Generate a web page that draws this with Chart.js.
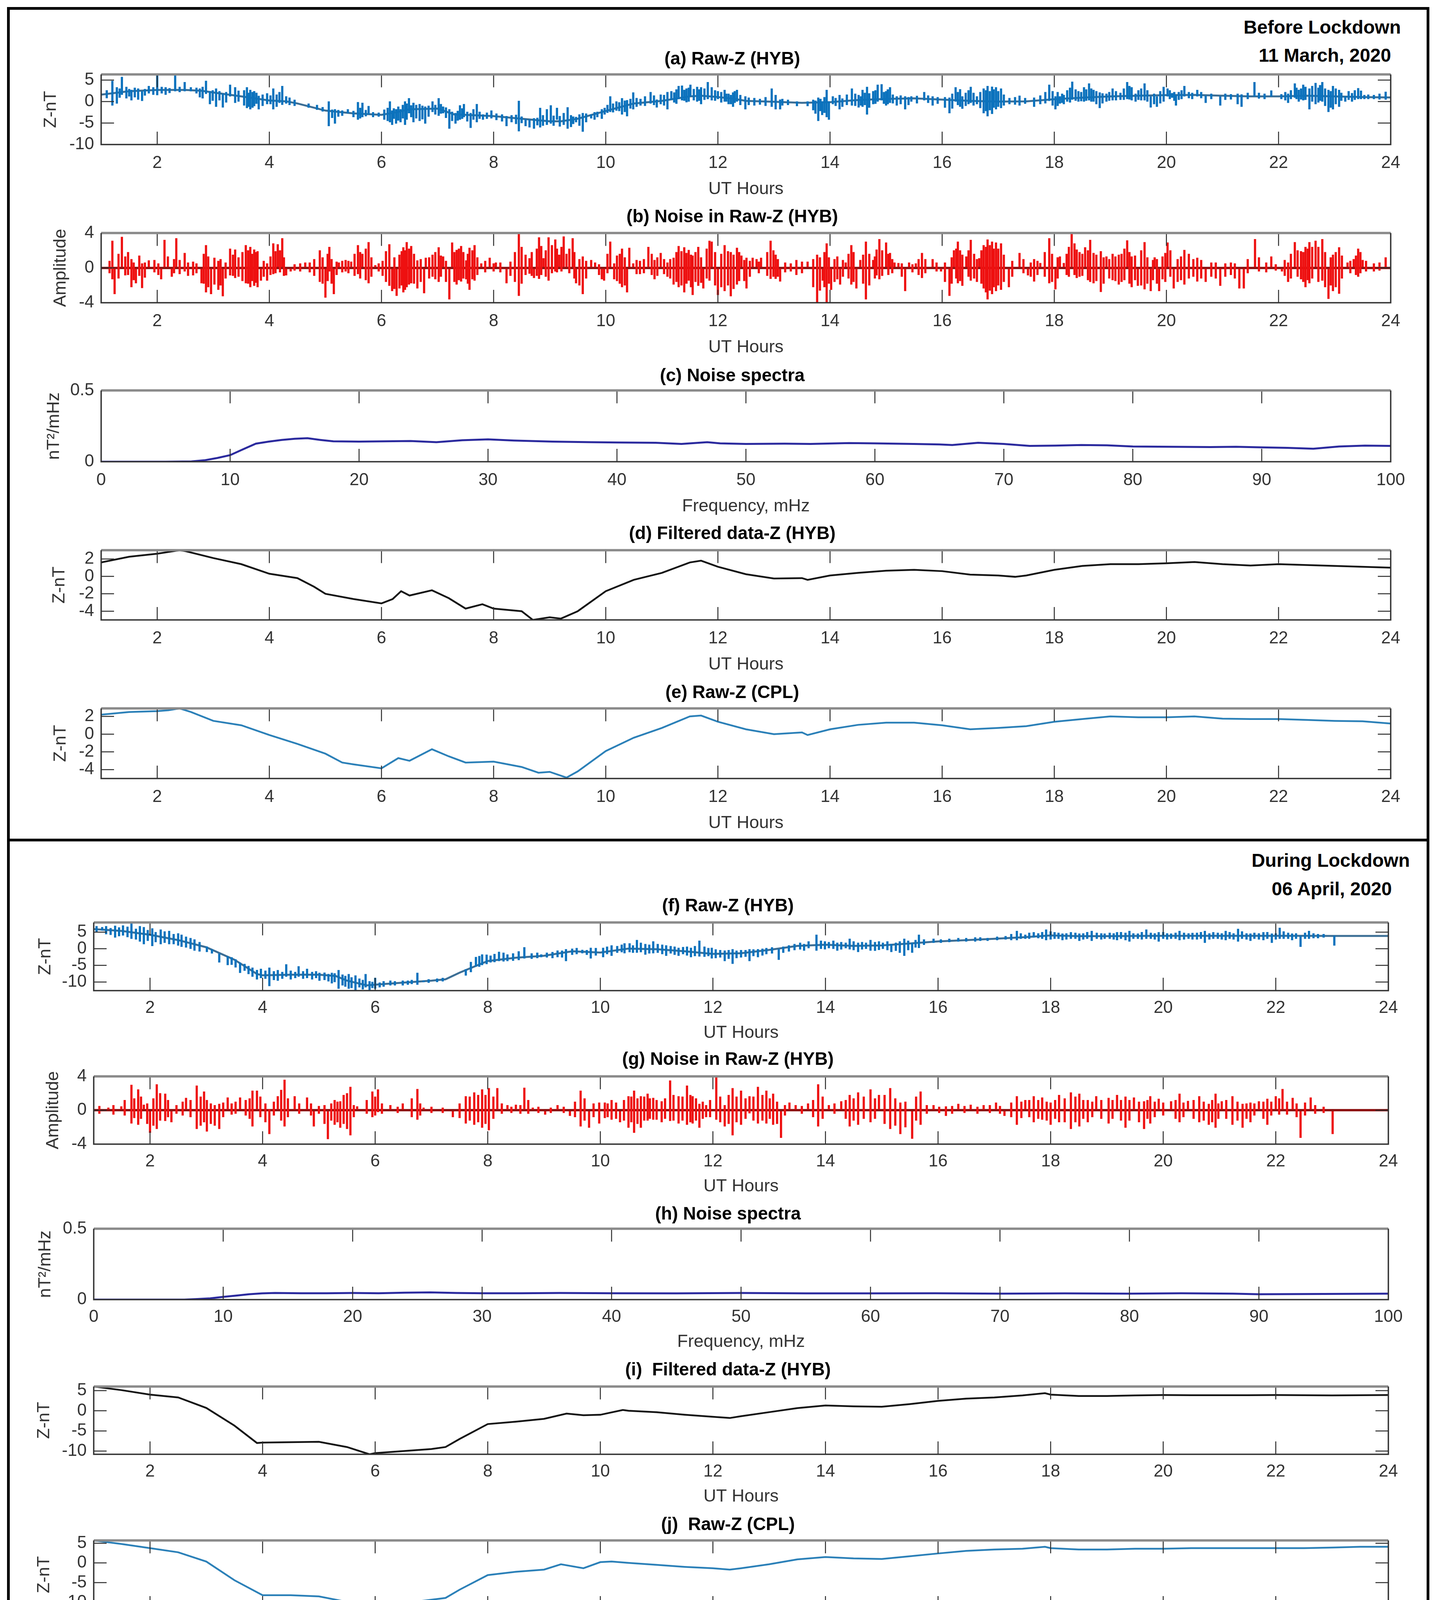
<!DOCTYPE html>
<html>
<head>
<meta charset="utf-8">
<script src="https://cdn.jsdelivr.net/npm/chart.js@4.4.0/dist/chart.umd.min.js"></script>
<style>
html,body{margin:0;padding:0;background:#fff;}
body{width:3677px;height:4375px;position:relative;overflow:hidden;font-family:'Liberation Sans',Arial,sans-serif;}
.panel{position:absolute;border:7px solid #000;box-sizing:border-box;}
.lbl{position:absolute;font-weight:bold;font-size:48px;line-height:48px;white-space:nowrap;color:#000;}
canvas{position:absolute;}
</style>
</head>
<body>
<div class="panel" style="left:18px;top:18px;width:3642px;height:2136px"></div>
<div class="panel" style="left:18px;top:2147px;width:3642px;height:2207px"></div>
<div class="lbl" style="right:90px;top:46px">Before Lockdown</div>
<div class="lbl" style="right:115px;top:118px">11 March, 2020</div>
<div class="lbl" style="right:67px;top:2179px">During Lockdown</div>
<div class="lbl" style="right:113px;top:2252px">06 April, 2020</div>
<script>
// ================= DATA =================
const HOUR_TICKS = [2,4,6,8,10,12,14,16,18,20,22,24];
const FREQ_TICKS = [0,10,20,30,40,50,60,70,80,90,100];
const Z_TICKS_10 = [-10,-5,0,5];
const Z_TICKS_4 = [-4,-2,0,2];
const NOISE_TICKS = [-4,-2,0,2,4];
const SPEC_TICKS = [0,0.5];

// (a) Raw-Z (HYB), 11 March 2020 : slow variation (hours / nT)
const A_TREND_H = [1,1.5,2,2.5,2.8,3,3.5,4,4.3,4.5,5,5.3,5.5,6,6.3,6.5,7,7.3,7.5,8,8.5,9,9.2,9.5,10,10.5,11,11.5,11.7,12,12.3,12.5,13,13.5,14,14.5,15,15.5,16,16.5,17,17.5,18,18.5,19,19.5,20,20.5,21,21.5,22,22.5,23,23.5,24];
const A_TREND_V = [1.6,2.4,2.7,2.7,2.5,2.1,1.2,0.25,0.05,-0.45,-2.1,-2.5,-2.75,-3.1,-2.4,-1.8,-1.65,-3.0,-3.1,-3.4,-4.0,-4.6,-4.6,-4.0,-2.2,-0.45,0.15,1.2,1.35,1.05,0.6,0.15,-0.05,-0.3,-0.15,0.35,0.6,0.75,0.45,0.15,0,0.05,0.55,0.9,1.2,1.35,1.5,1.55,1.35,1.2,1.2,1.35,1.2,1.05,0.95];
// (a) spikes: [hour, low nT, high nT]  (large spikes)
const A_SPIKES_1 = [
[1.20,-0.9,4.8],[1.28,-0.45,3.3],[1.37,1.6,5.7],[1.45,0.75,3.4],[1.54,0.3,2.7],[1.66,0.45,3.0],[1.73,0.15,2.4],[1.85,1.9,3.6],[2.00,1.5,6.1],[2.15,1.6,3.3],[2.32,2.4,6.1],[2.49,2.4,4.5],[2.60,2.4,3.3],[2.81,0.75,3.4],[2.87,1.8,4.8],[2.94,-0.6,2.4],[3.05,-1.2,3.0],[3.17,-1.35,1.8],[3.30,1.2,3.9],[3.39,-0.3,3.3],[3.60,-1.5,3.3],[3.66,-1.8,2.7],[3.73,-1.05,2.4],[3.81,-1.8,1.3],[3.96,-0.6,1.9],[4.07,-1.8,3.0],[4.23,-0.75,3.6],[4.30,-0.45,1.2],
[5.06,-5.7,0.0],[5.17,-5.1,-1.8],[5.40,-2.7,-1.8],[5.58,-4.2,-0.15],[5.66,-3.6,-0.3],[5.77,-3.0,-1.05],[6.15,-4.8,0.0],[6.19,-5.4,-2.1],[6.26,-5.1,-1.8],[6.34,-4.8,-1.8],[6.42,-5.4,0.0],[6.49,-2.7,0.75],[6.57,-4.8,-0.3],[6.68,-4.5,-0.6],[6.78,-5.1,-1.2],[6.91,-2.4,0.0],[7.02,-3.3,0.75],[7.10,-2.7,-1.2],[7.21,-6.3,-1.8],[7.32,-5.1,-2.7],[7.40,-4.2,-0.9],[7.47,-3.6,-0.6],[7.59,-6.1,-2.7],[7.70,-4.8,-0.6],[7.81,-4.2,-3.0],[7.96,-3.9,-2.1],[8.23,-5.7,-3.4],[8.45,-6.9,0.15],[8.57,-5.7,-4.1],[8.64,-6.0,-4.2],[8.72,-6.3,-3.9],[8.83,-6.0,-1.5],[8.95,-5.4,-1.8],[9.02,-5.1,-0.9],[9.13,-4.2,-1.5],[9.25,-5.4,-2.7],[9.32,-6.3,-1.35],[9.47,-4.8,-3.6],[9.59,-7.0,-2.7],[9.74,-3.9,-3.0],[9.85,-3.6,-2.4],[9.93,-4.0,-1.8],
[10.08,-2.4,1.2],[10.19,-2.1,0.0],[10.29,-3.0,0.75],[10.38,-3.4,0.3],[10.49,-1.8,2.1],[10.80,-0.45,2.2],[10.91,-1.35,0.45],[10.98,-0.6,1.6],[11.10,-1.8,2.2],[11.17,0.4,2.4],[11.30,0.6,3.6],[11.36,0.3,3.7],[11.44,-0.15,3.0],[11.51,1.2,3.9],[11.63,0.0,3.4],[11.70,-0.6,3.3],[11.82,0.6,4.5],[11.89,0.3,3.3],[12.00,0.6,2.4],[12.12,0.0,2.7],[12.19,-0.6,1.8],[12.27,-1.2,2.1],[12.34,0.0,2.7],[12.49,-1.8,1.2],
[12.96,-1.2,3.0],[13.03,-1.8,1.5],[13.11,-1.8,0.45],[13.41,-1.05,0.0],[13.60,-1.05,0.0],[13.79,-4.5,0.9],[13.86,-3.1,0.0],[13.94,-3.6,2.7],[13.98,-4.2,0.0],[14.05,-0.6,1.2],[14.17,-1.8,1.5],[14.39,-0.9,3.0],[14.51,-1.35,1.5],[14.58,-1.2,2.7],[14.66,-3.0,3.4],[14.77,-0.6,2.4],[14.85,0.0,3.9],[14.92,0.3,4.0],[15.00,-0.9,2.4],[15.07,-0.3,3.3],[15.19,-0.9,1.2],[15.34,-1.8,1.2],[15.45,0.0,1.2],[15.68,0.3,2.2],[15.83,-0.9,1.2],
[16.13,-2.7,0.9],[16.24,0.0,3.3],[16.32,-1.2,2.85],[16.36,-1.65,1.2],[16.51,-0.3,3.4],[16.62,-0.6,1.2],[16.74,-2.7,3.0],[16.81,-3.4,3.6],[16.89,-2.85,3.45],[16.96,-1.8,3.3],[17.05,-1.5,3.0],[17.38,-0.9,1.35],[17.64,-1.2,0.9],[17.91,0.15,3.9],[18.02,-1.8,1.2],[18.10,-0.45,1.2],[18.17,-0.6,1.5],[18.32,0.45,4.6],[18.43,0.0,2.4],[18.53,0.0,3.3],[18.62,0.3,4.2],[18.70,0.0,2.7],[18.81,-1.5,2.1],[18.93,0.0,1.8],[19.04,0.3,3.0],[19.30,0.6,4.5],[19.38,0.3,3.3],[19.45,0.0,1.8],[19.61,0.3,4.2],[19.72,-1.35,1.2],[19.83,-1.2,1.2],[19.95,0.0,3.4],
[20.02,1.2,3.0],[20.10,0.9,1.95],[20.17,-0.9,1.5],[20.32,1.2,3.6],[20.55,1.2,2.7],[20.70,-0.3,1.35],[20.96,-0.9,1.2],[21.27,-0.6,1.8],[21.34,-1.2,1.65],[21.57,1.2,4.5],[21.87,1.2,2.55],[22.17,-0.3,1.8],[22.29,0.9,4.2],[22.36,0.0,2.7],[22.44,0.3,3.9],[22.55,-1.8,3.0],[22.66,-0.6,4.3],[22.78,0.0,4.5],[22.89,-2.4,2.7],[22.97,-1.8,3.6],[23.08,-1.2,2.7],[23.19,0.0,1.2],[23.31,0.0,1.95],[23.42,0.6,3.1],[23.53,0.6,1.5],[23.91,0.45,2.25]
];
// (a) smaller spikes in the dense clusters
const A_SPIKES_2 = [
[1.10,0.8,2.6],[1.33,0.9,3.0],[1.50,1.2,2.9],[1.60,1.0,3.2],[1.78,1.4,2.9],[1.93,1.6,3.3],[2.08,1.9,3.4],[2.22,2.0,3.1],[2.40,2.2,3.4],[2.70,1.9,3.2],[2.76,1.0,3.0],[2.99,0.2,2.6],[3.11,0.3,2.4],[3.23,-0.2,2.2],[3.45,0.0,2.5],[3.55,-0.9,2.6],[3.63,-1.2,2.0],[3.70,-1.4,2.2],[3.77,-0.5,2.0],[3.88,-1.0,1.6],[4.02,-0.6,1.4],[4.13,-1.2,1.6],[4.18,-0.3,2.2],[4.36,-0.8,0.9],[4.45,-1.0,0.4],[4.70,-1.4,-0.5],[4.85,-1.9,-0.8],[4.95,-2.3,-1.3],
[5.12,-3.8,-1.9],[5.23,-3.5,-2.0],[5.30,-3.3,-2.1],[5.50,-3.6,-2.2],[5.62,-3.9,-1.5],[5.72,-3.4,-2.0],[5.85,-3.6,-2.5],[5.95,-3.5,-2.6],[6.05,-4.2,-1.9],[6.11,-4.5,-1.5],[6.22,-4.0,-1.6],[6.30,-4.4,-1.2],[6.38,-3.9,-0.8],[6.45,-4.2,-0.5],[6.53,-3.6,-0.9],[6.62,-3.9,-0.8],[6.73,-4.1,-1.0],[6.84,-3.5,-1.0],[6.96,-3.0,-0.8],[7.06,-2.8,-0.6],[7.15,-3.8,-1.4],[7.26,-4.5,-2.4],[7.36,-4.4,-2.2],[7.44,-4.0,-1.6],[7.53,-4.6,-2.4],[7.64,-4.2,-1.8],[7.75,-4.0,-2.4],[7.88,-4.0,-2.6],[8.05,-4.3,-2.8],[8.15,-4.6,-3.0],[8.32,-4.8,-3.2],[8.40,-5.2,-3.1],[8.50,-5.0,-3.5],[8.78,-5.5,-3.8],[8.88,-5.6,-3.2],[9.07,-5.6,-3.3],[9.18,-5.8,-3.4],[9.38,-5.9,-3.2],[9.42,-5.2,-3.5],[9.53,-5.6,-3.0],[9.65,-4.8,-2.8],[9.80,-4.2,-2.5],
[9.98,-3.0,-1.5],[10.03,-2.6,-0.8],[10.13,-2.5,-0.5],[10.24,-2.2,-0.2],[10.34,-2.4,0.2],[10.44,-1.6,0.6],[10.55,-1.2,0.8],[10.62,-0.9,0.6],[10.70,-1.0,1.2],[10.86,-0.8,1.4],[11.04,-0.9,1.5],[11.22,-0.2,2.1],[11.26,-0.5,2.8],[11.40,0.2,2.7],[11.48,0.0,3.2],[11.57,0.3,2.9],[11.67,0.2,2.8],[11.76,0.4,3.0],[11.95,0.2,2.6],[12.06,-0.2,2.2],[12.15,0.0,1.8],[12.23,-0.6,1.5],[12.30,-0.3,2.4],[12.40,-0.8,1.5],[12.55,-0.8,0.9],[12.65,-0.9,0.8],[12.75,-0.7,0.6],[12.85,-1.0,1.0],
[13.15,-0.9,0.6],[13.25,-0.8,0.4],[13.70,-2.0,0.4],[13.74,-2.8,0.2],[13.83,-2.2,0.6],[13.90,-2.6,1.0],[14.10,-1.0,0.8],[14.22,-1.2,0.7],[14.30,-0.8,1.6],[14.45,-1.0,1.8],[14.55,-0.9,1.2],[14.62,-0.8,2.0],[14.70,-1.4,1.9],[14.81,-0.5,2.6],[14.96,-0.5,2.2],[15.03,-0.6,2.8],[15.12,-0.4,1.6],[15.26,-0.6,1.4],[15.40,-0.8,1.0],[15.55,-0.4,1.3],[15.75,-0.3,1.4],[15.92,-0.5,1.0],[16.05,-1.4,1.0],[16.18,-1.6,1.8],[16.28,-0.8,2.2],[16.42,-1.0,2.0],[16.47,-0.6,2.6],[16.56,-0.9,2.0],[16.68,-1.5,2.2],[16.78,-2.2,2.6],[16.85,-2.0,2.4],[16.92,-1.4,2.8],[17.00,-1.2,2.4],[17.10,-0.9,1.6],[17.20,-0.6,0.8],[17.30,-0.7,1.0],[17.48,-0.5,0.8],[17.75,-0.6,1.4],[17.84,-0.4,2.2],
[17.97,-0.9,2.4],[18.06,-1.0,2.2],[18.14,-0.3,1.8],[18.23,0.0,2.6],[18.28,-0.2,3.2],[18.38,0.2,2.8],[18.48,0.1,2.2],[18.57,0.2,2.8],[18.66,0.0,3.0],[18.75,-0.6,2.4],[18.86,-0.4,1.9],[18.98,0.2,2.2],[19.10,0.3,2.4],[19.18,0.4,2.0],[19.24,0.4,3.0],[19.34,0.5,3.6],[19.50,0.4,2.6],[19.55,0.3,3.0],[19.66,0.0,2.6],[19.78,-0.6,1.8],[19.89,-0.4,2.4],[20.06,0.6,2.6],[20.14,0.2,2.2],[20.22,0.4,2.2],[20.27,0.6,2.6],[20.40,0.8,2.2],[20.46,0.6,2.0],[20.62,0.8,2.2],[20.80,0.6,1.8],[21.05,0.4,1.8],[21.15,0.5,1.7],[21.45,0.6,2.0],[21.65,0.7,2.0],[21.75,0.6,1.8],[22.05,0.6,1.7],[22.12,0.3,2.2],[22.22,0.6,2.6],[22.32,0.6,3.2],[22.40,0.5,3.0],[22.48,0.4,3.4],[22.60,0.0,3.6],[22.71,-0.2,3.2],[22.74,0.2,3.8],[22.83,-1.0,3.0],[22.93,-1.4,2.4],[23.02,-0.6,3.0],[23.12,0.2,2.0],[23.25,0.4,2.4],[23.36,0.4,2.6],[23.47,0.6,2.5],[23.60,0.6,1.6],[23.70,0.6,1.5],[23.80,0.5,1.8]
];

// (b) Noise in Raw-Z (HYB): [hour, low, high] amplitude  (large spikes)
const B_NOISE_1 = [
[1.20,-1.3,3.1],[1.24,-3.0,0],[1.37,0,3.55],[1.43,-0.85,1.3],[1.54,-2.2,1.0],[1.62,-1.75,0],[1.73,-2.3,0.5],[1.85,0,0.85],[2.07,-1.3,0],[2.13,0,3.2],[2.19,0,1.3],[2.26,-1.0,0],[2.34,0,3.4],[2.49,-0.4,1.7],[2.64,-0.85,0.7],[2.79,-1.75,0],[2.87,-2.8,2.6],[2.96,-3.0,0],[3.02,-1.9,1.15],[3.09,-2.5,0.8],[3.17,-3.25,0],[3.30,-0.85,2.2],[3.39,-1.15,2.1],[3.58,-1.75,2.6],[3.66,-2.2,2.4],[3.73,-2.05,2.1],[3.79,-2.2,1.9],[3.85,-1.45,0],[3.96,-1.45,0.5],[4.07,-0.7,2.8],[4.15,0,2.7],[4.23,0,3.4],[4.30,-0.85,0],[4.38,-0.4,0],[4.64,0,0.6],[4.90,-1.6,2.0],[5.00,-3.4,0],[5.07,-0.4,2.4],[5.15,-3.0,0],[5.24,0,0.6],[5.36,-0.4,0.9],[5.46,0,0.7],[5.58,-0.7,2.6],[5.66,0,1.6],[5.77,-1.75,2.95],[5.89,0,0.3],
[6.14,-2.05,2.7],[6.19,-2.65,0],[6.27,-3.2,0],[6.32,-2.35,1.5],[6.39,-2.8,2.35],[6.45,-2.2,2.95],[6.53,-1.75,2.5],[6.64,-2.35,0.85],[6.76,-2.9,0],[6.79,0,1.15],[6.91,-1.0,1.5],[7.02,-1.6,2.35],[7.10,0,1.3],[7.21,-3.6,0],[7.26,0,2.9],[7.34,-1.9,2.05],[7.42,-1.55,2.5],[7.51,-1.3,0.85],[7.57,-2.5,2.3],[7.66,-1.45,2.6],[7.78,0,0.5],[7.93,0,1.15],[8.04,0,0.6],[8.23,-1.75,0],[8.45,-3.2,4.0],[8.64,-0.65,1.1],[8.72,-1.15,0],[8.81,-1.25,3.5],[8.89,0,1.1],[8.98,-1.45,3.5],[9.10,-0.4,3.25],[9.17,0,1.5],[9.25,0,3.6],[9.30,0,1.6],[9.41,0,3.4],[9.47,-1.75,0],[9.59,-3.0,1.3],[9.74,0,0.9],[9.81,0,0.6],[9.93,-1.3,0],[9.97,-1.45,0],
[10.08,0,3.0],[10.15,-1.3,0.5],[10.29,-2.2,2.2],[10.38,-2.8,0],[10.42,0,2.3],[10.49,0,0.5],[10.61,-0.7,0.8],[10.76,0,2.4],[10.87,-1.3,0.9],[10.98,0,1.7],[11.10,-1.0,0.6],[11.21,-1.9,1.15],[11.30,-2.2,2.5],[11.40,-2.8,2.35],[11.48,-1.45,2.05],[11.55,-3.1,1.4],[11.65,-2.05,2.4],[11.74,-2.35,0],[11.85,-1.45,3.1],[11.89,0,3.0],[12.00,-3.1,0],[12.12,-2.65,2.6],[12.23,-3.25,1.8],[12.34,-1.9,2.3],[12.42,0,1.4],
[12.51,-2.35,1.15],[12.62,0,1.15],[12.69,0,1.0],[12.77,0,1.15],[12.94,-1.25,3.1],[13.03,-1.25,1.5],[13.11,-1.55,0],[13.40,-0.8,0.9],[13.60,0,0.7],[13.77,-4.0,1.5],[13.87,-1.45,0],[13.94,-4.0,2.8],[14.02,-2.5,0],[14.13,-1.3,1.3],[14.18,-1.9,0],[14.28,0,0.6],[14.38,-1.9,2.6],[14.47,-2.35,0],[14.54,0,0.9],[14.64,-3.6,3.0],[14.77,0,0.9],[14.83,-0.85,2.1],[14.88,-1.3,3.3],[15.00,0,2.9],[15.07,0,1.7],[15.15,0,0.6],[15.22,0,0.55],[15.34,-2.65,0],[15.41,0,0.6],[15.53,0,0.5],[15.64,-1.15,1.7],[15.83,0,1.0],[15.98,-0.4,0],
[16.13,-3.2,0],[16.21,0,2.0],[16.28,-1.75,3.0],[16.36,-2.05,1.5],[16.43,0,1.3],[16.51,-1.45,3.2],[16.66,0,1.1],[16.74,-2.35,2.6],[16.81,-3.6,3.25],[16.89,-3.0,3.0],[16.96,-2.65,2.9],[17.05,-2.5,2.8],[17.19,-2.2,0],[17.38,0,1.7],[17.53,-0.85,0],[17.64,-1.55,1.0],[17.75,0,0.55],[17.91,-1.75,3.4],[18.02,-2.45,0],[18.10,0,1.3],[18.17,0,0.55],[18.31,0,4.0],[18.40,-1.15,2.1],[18.55,0,2.35],[18.64,-1.6,3.2],[18.70,-1.75,1.7],[18.83,-2.75,1.9],[18.93,0,1.3],[19.04,-1.4,1.6],[19.15,-1.9,1.5],[19.30,0,3.15],[19.38,-2.2,1.3],[19.49,-2.05,0],[19.61,-2.45,2.95],[19.72,-2.65,0],[19.79,0,1.2],[19.87,-2.65,0],[19.98,-1.6,1.7],
[20.02,0,2.9],[20.13,-2.35,0],[20.32,-1.9,2.05],[20.55,-1.55,1.15],[20.70,-1.6,0],[20.96,-2.05,0],[21.30,-2.35,0],[21.38,-2.35,0],[21.58,0,3.3],[21.87,0,1.3],[22.06,-0.4,0],[22.17,-1.6,0.6],[22.29,0,2.95],[22.40,-1.3,1.9],[22.48,-2.2,2.4],[22.55,-1.75,2.95],[22.66,0,3.1],[22.78,-1.45,3.3],[22.89,-3.55,0],[22.97,-2.65,1.5],[23.08,-2.95,2.35],[23.23,0,0.6],[23.34,0,1.0],[23.42,-1.0,2.2],[23.50,0,0.9],[23.91,0,1.2]
];
// (b) smaller spikes in the dense clusters
const B_NOISE_2 = [
[1.15,-0.6,0.8],[1.31,-1.2,1.6],[1.48,-0.8,1.8],[1.58,-1.4,0.6],[1.68,-0.9,1.4],[1.78,-1.1,0.6],[1.95,-0.5,0.9],[2.02,-0.8,0.5],[2.30,-0.6,1.0],[2.40,-0.7,0.9],[2.55,-0.9,0.6],[2.70,-0.6,0.5],[2.83,-1.8,1.6],[2.91,-2.2,1.3],[3.13,-2.0,1.0],[3.22,-1.2,0.6],[3.35,-0.9,1.5],[3.45,-1.0,1.2],[3.52,-1.5,1.8],[3.62,-1.8,2.0],[3.69,-1.5,1.6],[3.76,-1.7,1.8],[3.90,-1.0,0.8],[4.02,-0.8,1.3],[4.11,-0.6,1.9],[4.19,-0.5,2.0],[4.26,-0.9,1.2],[4.45,-0.3,0.4],[4.55,-0.4,0.5],[4.72,-0.5,0.6],[4.80,-0.9,1.0],[4.95,-1.8,1.2],[5.04,-1.5,1.6],[5.11,-1.8,1.0],[5.20,-0.8,0.7],[5.30,-0.5,0.8],[5.41,-0.6,0.8],[5.52,-0.9,1.6],[5.62,-1.2,1.8],[5.72,-1.4,2.2],[5.82,-1.0,1.2],[5.95,-0.4,0.5],
[6.02,-0.9,0.8],[6.08,-1.6,1.9],[6.23,-2.4,1.2],[6.36,-2.0,1.9],[6.42,-2.5,2.0],[6.49,-1.9,2.2],[6.58,-1.8,1.6],[6.70,-1.6,1.0],[6.85,-1.2,1.2],[6.96,-1.3,1.8],[7.06,-1.0,1.4],[7.15,-1.6,0.8],[7.30,-1.6,1.8],[7.38,-1.4,2.2],[7.46,-1.2,1.8],[7.54,-1.8,1.6],[7.62,-1.3,2.0],[7.71,-0.8,1.2],[7.85,-0.5,0.8],[8.00,-0.4,0.5],[8.12,-0.5,0.6],[8.30,-0.9,0.7],[8.38,-1.6,1.8],[8.50,-1.8,2.4],[8.57,-0.8,1.5],[8.68,-0.9,1.8],[8.77,-0.9,2.2],[8.85,-0.8,2.5],[8.93,-1.0,2.0],[9.04,-0.6,2.6],[9.13,-0.5,2.2],[9.21,-0.4,2.4],[9.35,-0.6,2.2],[9.44,-1.2,1.8],[9.53,-2.0,1.0],[9.65,-1.2,0.8],[9.88,-0.8,0.4],
[10.03,-0.6,1.6],[10.20,-1.5,1.4],[10.25,-1.8,1.6],[10.34,-2.0,1.2],[10.55,-0.7,0.9],[10.68,-0.6,1.0],[10.82,-0.8,1.6],[10.92,-0.9,1.2],[11.04,-0.7,1.0],[11.15,-1.2,1.0],[11.26,-1.6,1.8],[11.35,-2.0,1.9],[11.44,-1.8,1.7],[11.52,-2.2,1.5],[11.60,-1.6,1.8],[11.70,-1.7,1.2],[11.80,-1.2,2.2],[11.95,-2.0,1.8],[12.06,-2.2,1.6],[12.18,-2.0,1.9],[12.28,-2.4,1.5],[12.38,-1.5,1.8],[12.47,-1.5,0.9],[12.57,-1.0,0.8],[12.73,-0.6,0.7],[12.88,-0.9,1.8],[12.99,-1.0,2.0],[13.07,-1.0,1.0],[13.20,-0.5,0.6],[13.30,-0.4,0.5],[13.50,-0.6,0.7],[13.70,-2.2,1.0],[13.82,-2.6,1.2],[13.90,-2.2,1.8],[13.98,-1.8,1.2],
[14.08,-1.6,1.0],[14.23,-1.0,0.9],[14.33,-1.2,1.6],[14.42,-1.6,1.8],[14.59,-1.8,1.5],[14.70,-2.0,1.6],[14.80,-1.2,1.3],[14.93,-0.9,2.0],[15.04,-0.8,1.6],[15.11,-0.6,1.0],[15.28,-1.0,0.5],[15.47,-0.5,0.4],[15.58,-0.8,1.0],[15.70,-0.6,1.0],[15.90,-0.4,0.6],[16.05,-1.6,0.6],[16.17,-1.8,1.2],[16.25,-1.2,2.2],[16.32,-1.5,2.0],[16.47,-1.0,2.0],[16.57,-1.2,1.6],[16.62,-1.6,1.0],[16.70,-1.8,2.0],[16.78,-2.8,2.4],[16.85,-2.6,2.6],[16.92,-2.2,2.2],[17.00,-2.0,2.2],[17.10,-1.6,1.5],[17.25,-1.0,0.8],[17.45,-0.6,1.0],[17.58,-1.0,0.6],[17.70,-0.8,0.8],[17.83,-1.0,1.8],[17.96,-1.6,1.6],
[18.06,-1.2,1.2],[18.22,-0.8,1.6],[18.26,-1.0,2.4],[18.36,-0.8,2.8],[18.45,-1.0,1.8],[18.50,-0.9,1.6],[18.60,-1.4,2.0],[18.75,-1.5,1.5],[18.88,-1.8,1.2],[18.98,-1.2,1.0],[19.09,-1.5,1.3],[19.20,-1.6,1.6],[19.25,-1.4,2.2],[19.34,-1.8,1.8],[19.44,-1.4,1.4],[19.55,-2.0,2.0],[19.66,-1.8,1.2],[19.76,-1.4,0.9],[19.83,-1.8,1.0],[19.93,-1.3,1.3],[20.07,-1.0,2.0],[20.20,-1.6,1.0],[20.26,-1.4,1.3],[20.40,-1.2,1.6],[20.48,-1.0,1.0],[20.62,-1.2,0.9],[20.80,-1.0,0.6],[20.88,-1.2,0.6],[21.05,-1.0,0.5],[21.15,-0.8,0.6],[21.22,-1.2,0.5],[21.45,-0.6,1.0],[21.65,-0.4,1.2],[21.78,-0.5,0.6],[21.95,-0.3,0.4],
[22.11,-0.9,0.9],[22.22,-1.2,1.6],[22.34,-1.0,2.0],[22.44,-1.6,1.8],[22.52,-1.4,2.2],[22.60,-1.2,2.4],[22.71,-1.6,2.4],[22.83,-2.2,1.8],[22.93,-2.0,1.2],[23.02,-2.2,1.8],[23.13,-1.2,1.4],[23.28,-0.6,0.8],[23.38,-0.8,1.4],[23.46,-0.6,1.8],[23.56,-0.4,0.8],[23.70,-0.4,0.5],[23.80,-0.3,0.6]
];

// (c) Noise spectra, 11 March (mHz / nT^2/mHz)
const C_FREQ = [0,5,7,8,9,10,11,12,13,14,15,16,17,18,20,22,24,26,28,30,32,35,38,40,43,45,47,48,50,53,55,58,60,63,65,66,68,70,72,74,76,78,80,83,86,88,90,92,94,96,98,100];
const C_PSD  = [0,0,0.002,0.01,0.026,0.046,0.087,0.127,0.141,0.153,0.161,0.165,0.153,0.143,0.141,0.143,0.145,0.137,0.151,0.157,0.149,0.141,0.137,0.135,0.133,0.125,0.137,0.129,0.125,0.127,0.125,0.131,0.129,0.125,0.121,0.117,0.133,0.125,0.111,0.113,0.117,0.115,0.107,0.105,0.103,0.105,0.101,0.097,0.091,0.107,0.113,0.111];

// (d) Filtered data-Z (HYB), 11 March
const D_H = [1,1.5,2,2.4,2.5,3,3.5,4,4.5,4.8,5,5.5,6,6.2,6.35,6.5,6.9,7.2,7.5,7.8,8,8.5,8.7,9,9.2,9.5,10,10.5,11,11.5,11.7,12,12.5,13,13.5,13.6,14,14.5,15,15.5,16,16.5,17,17.3,17.5,18,18.5,19,19.5,20,20.5,21,21.5,22,22.5,23,23.5,24];
const D_V = [1.6,2.25,2.6,3.0,2.9,2.1,1.4,0.3,-0.2,-1.2,-2.0,-2.6,-3.1,-2.6,-1.7,-2.2,-1.6,-2.5,-3.7,-3.2,-3.7,-4.0,-5.0,-4.7,-4.85,-4.0,-1.7,-0.4,0.4,1.6,1.8,1.1,0.25,-0.25,-0.2,-0.4,0.1,0.4,0.65,0.75,0.6,0.2,0.1,-0.05,0.1,0.75,1.2,1.4,1.4,1.5,1.65,1.4,1.25,1.4,1.3,1.2,1.1,1.0];

// (e) Raw-Z (CPL), 11 March
const E_H = [1,1.5,2,2.2,2.4,2.6,3,3.5,4,4.5,5,5.3,5.5,6,6.3,6.5,6.9,7.2,7.5,8,8.5,8.8,9,9.3,9.5,10,10.5,11,11.5,11.7,12,12.5,13,13.5,13.6,14,14.5,15,15.5,16,16.5,17,17.5,18,18.5,19,19.5,20,20.5,21,21.5,22,22.5,23,23.5,24];
const E_V = [2.2,2.5,2.6,2.7,2.9,2.5,1.5,1.0,-0.1,-1.1,-2.2,-3.2,-3.4,-3.85,-2.7,-3.0,-1.7,-2.5,-3.2,-3.1,-3.7,-4.35,-4.25,-4.9,-4.2,-1.9,-0.4,0.7,2.0,2.1,1.4,0.55,0,0.2,-0.1,0.55,1.05,1.3,1.3,1.0,0.55,0.7,0.9,1.4,1.7,2.0,1.9,1.9,2.0,1.75,1.7,1.7,1.6,1.5,1.45,1.2];

// (f) Raw-Z (HYB), 06 April 2020
const F_TREND_H = [1,1.5,2,2.5,3,3.5,3.9,4,4.5,5,5.3,5.5,5.85,6,6.5,7,7.25,7.5,8,8.5,9,9.5,10,10.5,11,11.5,12,12.5,13,13.5,14,14.5,15,15.5,16,16.5,17,17.5,18,18.5,19,19.5,20,20.5,21,21.5,22,22.5,23,23.5,24];
const F_TREND_V = [5.9,5.35,4.2,2.6,0.45,-3.3,-7.6,-8.0,-7.8,-7.8,-8.2,-9.6,-11.0,-10.8,-10.2,-9.6,-9.2,-7.2,-3.7,-2.7,-2.1,-0.75,-1.15,0.05,-0.15,-0.75,-1.55,-1.35,-0.35,0.85,1.2,0.85,1.0,1.6,2.2,2.6,3.0,3.45,4.0,3.8,3.8,3.85,3.9,3.9,3.9,3.9,3.9,3.9,3.85,3.85,3.85];
const F_SPIKES_1 = [
[1.15,5.5,6.5],[1.38,3.4,6.9],[1.67,3.0,7.9],[1.89,1.4,6.5],[2.04,0.85,6.1],[2.19,1.4,5.75],[2.34,1.4,5.35],[2.56,0.6,4.2],[2.79,-0.55,2.8],[3.01,-0.95,0.6],[3.23,-4.1,-1.5],[3.38,-4.9,-2.3],[3.60,-7.25,-4.2],[3.82,-8.4,-5.7],[3.97,-8.8,-6.05],[4.12,-11.2,-5.7],[4.27,-9.6,-6.45],[4.42,-8.4,-4.7],[4.64,-8.4,-5.3],[4.79,-8.8,-6.05],[5.01,-9.6,-7.25],[5.23,-10.4,-7.25],[5.35,-12.0,-6.45],[5.53,-12.0,-7.65],[5.65,-12.75,-8.05],[5.83,-11.6,-7.65],[6.00,-12.0,-8.8],[6.27,-11.0,-9.6],[6.49,-11.0,-9.6],[6.75,-10.8,-7.25],[6.86,-10.0,-9.6],
[7.61,-8.05,-6.2],[7.79,-5.3,-2.5],[7.90,-4.9,-1.75],[8.05,-4.1,-2.1],[8.20,-3.7,-0.95],[8.35,-3.7,-1.75],[8.65,-2.9,0.45],[8.95,-2.5,-1.75],[9.24,-2.5,-0.55],[9.39,-3.7,-0.15],[9.68,-1.35,-0.35],[9.83,-2.9,0.25],[10.05,-2.5,0.25],[10.20,-2.1,1.0],[10.43,-1.35,1.6],[10.65,-1.15,2.6],[10.80,-1.75,1.4],[10.94,-1.35,2.2],[11.17,-2.1,1.0],[11.39,-2.1,0.25],[11.61,-2.5,0.25],[11.76,-2.3,2.4],[11.98,-2.9,0.25],[12.21,-3.7,-0.55],[12.35,-4.5,-0.15],[12.65,-3.7,-0.15],[12.80,-2.5,-0.15],[13.17,-3.3,-0.15],
[13.62,-0.55,1.4],[13.84,-0.55,4.2],[13.99,-0.15,2.2],[14.21,-0.55,1.8],[14.43,-0.15,3.0],[14.58,-0.95,1.8],[14.80,-0.55,2.6],[14.95,-0.35,2.2],[15.17,-0.95,1.4],[15.40,-2.1,3.0],[15.54,-1.15,1.8],[15.66,0.25,4.2],[15.92,1.8,3.0],[16.36,2.2,3.2],[16.66,2.2,3.4],[16.88,2.4,3.2],[17.40,2.6,5.35],[17.55,3.0,4.2],[17.70,3.4,4.95],[17.92,2.6,5.75],[18.07,3.0,4.95],[18.21,2.6,4.55],[18.36,3.0,4.95],[18.51,2.4,4.55],[18.73,2.4,5.35],[18.96,3.0,4.55],[19.18,2.6,4.95],[19.40,2.2,5.35],[19.55,3.0,4.55],[19.70,3.0,5.75],[19.92,2.2,4.95],
[20.14,3.0,4.55],[20.29,2.6,5.35],[20.52,2.8,4.75],[20.74,1.8,5.35],[20.89,3.0,4.95],[21.11,2.6,5.35],[21.33,2.2,5.95],[21.55,2.4,4.55],[21.78,2.6,4.95],[21.93,1.8,4.55],[22.07,3.0,6.3],[22.29,2.6,4.55],[22.44,0.6,3.9],[22.59,3.0,5.35],[23.04,1.0,3.9]
];
const F_SPIKES_2 = [
[1.05,5.0,6.8],[1.22,4.4,6.8],[1.30,4.2,6.2],[1.45,3.8,6.4],[1.52,4.0,7.0],[1.60,3.5,6.6],[1.75,2.8,6.0],[1.82,2.2,6.8],[1.96,2.4,5.6],[2.10,2.0,5.0],[2.26,1.8,5.2],[2.42,1.4,4.4],[2.50,1.0,4.6],[2.64,0.4,3.6],[2.72,0.0,3.2],[2.88,-0.8,2.0],[3.10,-1.4,-0.2],[3.45,-4.8,-2.6],[3.52,-5.6,-3.2],[3.68,-6.6,-4.6],[3.75,-7.6,-5.2],[3.90,-9.2,-6.4],[4.05,-9.0,-6.6],[4.20,-9.4,-6.8],[4.35,-9.0,-7.0],[4.50,-9.2,-6.6],[4.58,-8.8,-7.0],[4.72,-9.0,-6.8],[4.88,-9.2,-7.0],[4.95,-8.8,-6.8],[5.10,-9.4,-7.2],[5.17,-9.8,-7.6],[5.28,-10.0,-7.4],[5.42,-11.0,-7.8],[5.47,-11.4,-8.2],[5.58,-11.8,-8.6],[5.72,-11.6,-9.0],[5.78,-12.2,-9.4],[5.90,-12.4,-9.8],[5.95,-11.8,-10.0],[6.08,-11.6,-10.2],[6.15,-11.4,-9.8],[6.35,-11.0,-9.8],[6.58,-10.8,-9.6],[6.65,-10.6,-9.4],[6.95,-10.2,-9.2],[7.10,-10.0,-9.0],[7.20,-9.8,-8.8],
[7.70,-7.0,-4.0],[7.85,-5.4,-2.2],[7.98,-4.6,-1.8],[8.12,-4.0,-1.6],[8.28,-3.8,-1.2],[8.45,-3.6,-1.4],[8.55,-3.4,-0.8],[8.78,-3.0,-1.4],[8.88,-2.8,-1.2],[9.05,-2.6,-1.2],[9.15,-2.8,-1.0],[9.32,-2.6,-0.6],[9.50,-1.8,0.0],[9.58,-1.6,0.2],[9.76,-1.8,-0.4],[9.92,-2.0,0.2],[10.12,-1.6,0.6],[10.30,-1.2,0.8],[10.38,-1.0,1.2],[10.52,-1.0,1.6],[10.58,-1.2,1.0],[10.72,-1.0,1.8],[10.87,-1.4,1.2],[11.02,-1.2,1.4],[11.10,-1.6,1.2],[11.25,-1.4,0.8],[11.32,-1.8,0.6],[11.47,-1.6,0.5],[11.54,-2.0,0.6],[11.68,-2.2,0.8],[11.85,-2.4,0.6],[11.92,-2.2,0.2],[12.05,-2.8,-0.2],[12.13,-2.6,-0.4],[12.28,-3.0,-0.4],[12.42,-2.8,-0.6],[12.50,-2.6,-0.4],[12.58,-2.4,-0.4],[12.72,-2.2,-0.2],[12.88,-2.0,0.0],[12.95,-1.6,0.2],[13.05,-1.4,0.4],[13.25,-1.2,0.6],[13.35,-0.8,1.0],[13.45,-0.4,1.4],[13.55,-0.2,1.8],[13.70,0.2,2.2],[13.92,0.0,2.4],
[14.06,0.2,2.0],[14.14,0.0,2.4],[14.28,-0.2,2.0],[14.36,0.2,1.8],[14.50,-0.4,2.2],[14.65,-0.2,2.0],[14.72,0.0,1.8],[14.88,-0.6,2.0],[15.02,0.0,1.8],[15.10,-0.4,2.2],[15.25,-0.6,1.8],[15.32,-1.2,2.2],[15.47,-0.4,2.4],[15.60,0.4,2.6],[15.75,1.2,2.8],[16.05,1.8,2.8],[16.20,2.0,3.0],[16.50,2.2,3.2],[16.75,2.4,3.4],[17.05,2.6,3.6],[17.20,2.8,3.8],[17.30,2.6,4.4],[17.47,3.0,4.6],[17.62,3.0,4.8],[17.78,3.2,4.6],[17.85,3.0,5.0],[18.00,2.8,5.2],[18.14,3.0,4.8],[18.28,2.8,4.6],[18.44,3.0,4.8],[18.58,2.8,4.6],[18.65,3.0,5.0],[18.82,3.0,4.8],[18.90,2.8,4.6],[19.05,3.0,4.8],[19.12,2.8,4.6],[19.25,3.0,5.0],[19.33,2.6,4.8],[19.47,3.0,4.6],[19.62,2.8,5.0],[19.78,3.0,4.8],[19.85,2.8,4.6],
[20.00,3.0,5.0],[20.07,2.8,4.6],[20.22,3.0,4.8],[20.37,2.8,4.8],[20.45,3.0,4.6],[20.60,2.8,4.8],[20.67,3.0,5.0],[20.82,2.8,4.6],[20.97,3.0,4.8],[21.04,2.8,4.6],[21.18,3.0,5.0],[21.25,2.8,4.6],[21.40,3.0,5.2],[21.48,2.8,4.6],[21.62,3.0,4.8],[21.70,2.8,4.6],[21.85,3.0,5.0],[22.00,2.8,4.6],[22.14,3.0,5.2],[22.22,3.0,4.8],[22.36,3.0,4.6],[22.52,3.0,4.8],[22.67,3.2,4.6],[22.75,3.2,4.4],[22.85,3.4,4.4]
];

// (g) Noise in Raw-Z (HYB), 06 April
const G_NOISE_1 = [
[1.26,0,0.3],[1.49,0,0.45],[1.67,-1.55,3.0],[1.79,-1.7,2.45],[1.89,0,0.65],[2.00,-2.65,0],[2.12,-2.2,3.05],[2.27,-1.25,1.95],[2.38,-1.4,0],[2.64,0,1.45],[2.83,-2.2,2.9],[3.01,-2.5,1.2],[3.23,-2.2,0.75],[3.38,0,1.5],[3.60,0,1.5],[3.82,-1.9,2.3],[3.90,0,2.3],[4.12,-2.8,0.1],[4.27,0,1.65],[4.39,-1.9,3.6],[4.57,0,1.65],[4.79,0,1.5],[4.91,-1.9,0],[5.16,-3.4,0],[5.28,-1.7,1.2],[5.38,-2.05,1.05],[5.56,-2.95,2.75],[5.68,0,0.45],[5.95,-0.8,2.2],[6.05,-0.2,2.45],[6.27,0,0.6],[6.49,0,0.8],[6.75,-1.1,2.5],[6.86,0,0.3],
[7.38,-0.8,0],[7.61,-1.55,1.65],[7.76,-1.7,2.1],[7.90,-2.05,2.45],[8.02,-2.35,2.6],[8.17,0,2.6],[8.35,0,0.6],[8.50,0,0.65],[8.65,0,2.65],[8.80,0,0.3],[9.02,-0.5,0],[9.24,0,0.6],[9.46,-0.65,0],[9.65,-1.9,2.3],[9.80,-2.05,0],[9.98,-1.55,0.9],[10.20,-1.1,1.2],[10.35,-1.4,0],[10.50,-2.05,1.65],[10.60,-2.65,2.3],[10.72,-2.05,1.65],[10.84,-1.2,1.95],[10.94,-1.1,1.45],[11.09,-1.4,1.05],[11.24,-1.25,3.5],[11.39,-1.55,1.65],[11.54,-1.7,2.9],[11.64,-1.55,1.65],[11.76,-2.05,0.75],[11.88,-0.8,0.6],
[12.06,-1.1,4.0],[12.21,-1.9,0.6],[12.35,-2.95,2.6],[12.50,-1.7,2.3],[12.65,-0.35,1.65],[12.80,-1.55,2.75],[12.95,-1.55,2.3],[13.07,-1.7,1.95],[13.21,-3.25,0],[13.36,0,0.9],[13.47,0,0.6],[13.69,0,0.8],[13.87,-1.9,3.05],[14.06,0,0.6],[14.28,0,1.05],[14.43,-1.9,1.8],[14.58,-1.7,2.1],[14.80,-1.4,2.45],[14.95,0,1.8],[15.15,-2.2,2.6],[15.33,-2.8,0.9],[15.54,-3.35,0],[15.69,-1.7,2.2],[15.92,0,0.6],
[16.14,-0.65,0.45],[16.36,0,0.75],[16.58,0,0.65],[16.81,0,0.6],[17.03,0,0.9],[17.18,-0.65,0],[17.40,-1.7,1.65],[17.55,0,1.2],[17.70,-1.4,1.65],[17.85,-1.1,1.5],[18.00,-1.7,0.9],[18.15,-1.4,1.8],[18.36,-2.2,2.1],[18.51,-1.9,1.95],[18.66,-1.4,1.2],[18.81,0,1.65],[19.03,-1.55,1.45],[19.18,0,1.8],[19.33,-2.05,1.6],[19.48,0,1.5],[19.66,-2.2,1.05],[19.77,-1.55,1.65],[19.92,0,1.35],
[20.14,0,1.05],[20.29,-1.4,1.95],[20.44,0,1.1],[20.64,-1.4,1.65],[20.81,-1.7,0.75],[20.93,-2.05,1.95],[21.04,0,1.05],[21.23,-1.7,1.65],[21.41,-2.05,0.75],[21.55,-1.4,0.9],[21.70,0,1.05],[21.85,-1.7,1.35],[22.00,0,1.65],[22.12,0,2.5],[22.30,0,1.45],[22.44,-3.25,0],[22.62,0,1.5],[23.01,-2.8,0]
];
const G_NOISE_2 = [
[1.10,-0.4,0.5],[1.35,-0.5,0.6],[1.55,-0.6,1.2],[1.72,-0.9,1.4],[1.84,-1.0,1.6],[1.95,-1.6,0.8],[2.06,-1.8,1.4],[2.18,-1.2,2.0],[2.32,-0.8,1.2],[2.47,-0.4,0.6],[2.58,-0.6,1.0],[2.72,-0.8,1.2],[2.90,-1.8,1.6],[2.96,-1.4,2.2],[3.08,-1.6,0.8],[3.15,-1.8,0.6],[3.30,-0.8,0.9],[3.45,-0.5,0.8],[3.52,-0.4,1.0],[3.70,-0.6,1.2],[3.77,-1.0,1.4],[3.96,-0.8,1.6],[4.05,-1.4,0.8],[4.20,-0.6,1.0],[4.33,-1.2,2.4],[4.45,-0.8,1.4],[4.65,-0.4,0.8],[4.86,-0.6,0.8],[5.00,-0.4,0.5],[5.10,-1.6,0.6],[5.22,-1.2,0.8],[5.33,-1.4,1.0],[5.44,-1.6,1.8],[5.50,-2.2,2.0],[5.62,-0.8,0.6],[5.85,-0.4,1.2],[6.00,-0.6,1.6],[6.12,-0.4,0.8],[6.40,-0.3,0.4],[6.65,-0.8,1.4],[6.80,-0.6,0.8],[7.00,-0.3,0.4],[7.20,-0.3,0.3],
[7.50,-0.9,0.8],[7.68,-1.2,1.6],[7.83,-1.4,1.8],[7.96,-1.6,1.8],[8.10,-1.0,1.6],[8.25,-0.4,0.8],[8.42,-0.3,0.4],[8.58,-0.4,0.6],[8.72,-0.4,1.2],[8.90,-0.3,0.4],[9.12,-0.3,0.3],[9.35,-0.3,0.4],[9.55,-0.8,1.0],[9.72,-1.2,1.4],[9.88,-0.8,0.8],[10.08,-0.9,0.9],[10.13,-0.8,0.8],[10.28,-1.0,0.9],[10.42,-1.2,1.2],[10.55,-1.4,1.6],[10.66,-1.6,1.4],[10.78,-1.2,1.6],[10.88,-1.0,1.4],[11.00,-1.1,1.2],[11.15,-1.0,1.4],[11.30,-1.2,1.8],[11.46,-1.2,1.6],[11.60,-1.4,1.8],[11.70,-1.2,1.4],[11.82,-1.0,1.0],[11.95,-0.8,1.2],
[12.13,-1.4,1.6],[12.28,-1.6,1.8],[12.42,-1.4,1.6],[12.58,-1.0,1.4],[12.72,-1.2,1.6],[12.88,-1.2,1.8],[13.01,-1.0,1.4],[13.14,-1.6,1.0],[13.28,-0.6,0.6],[13.58,-0.4,0.5],[13.78,-0.8,1.2],[13.95,-1.0,1.6],[14.16,-0.4,0.8],[14.36,-1.0,1.2],[14.50,-1.2,1.4],[14.68,-1.0,1.6],[14.88,-1.0,1.4],[15.05,-1.6,1.8],[15.24,-1.8,1.4],[15.42,-2.0,1.0],[15.61,-1.2,1.6],[15.80,-0.4,0.6],[16.02,-0.3,0.4],[16.25,-0.4,0.5],[16.47,-0.3,0.5],[16.70,-0.4,0.4],[16.92,-0.3,0.6],[17.10,-0.4,0.5],
[17.30,-0.8,0.9],[17.48,-0.9,1.0],[17.62,-0.8,1.2],[17.78,-1.0,1.2],[17.93,-1.2,1.0],[18.08,-1.0,1.2],[18.25,-1.4,1.4],[18.44,-1.4,1.6],[18.58,-1.0,1.2],[18.74,-0.8,1.0],[18.90,-1.0,1.2],[19.10,-1.0,1.2],[19.25,-1.2,1.2],[19.40,-1.2,1.2],[19.57,-1.4,1.0],[19.72,-1.0,1.2],[19.85,-0.8,1.0],[20.00,-0.6,0.9],[20.22,-1.0,1.2],[20.36,-0.8,0.9],[20.54,-1.0,1.2],[20.72,-1.2,1.0],[20.87,-1.4,1.2],[20.98,-1.0,0.8],[21.12,-1.0,1.2],[21.32,-1.2,1.0],[21.48,-1.0,0.8],[21.62,-0.6,0.8],[21.78,-1.0,1.0],[21.92,-0.6,1.0],[22.06,-0.5,1.4],[22.20,-0.5,1.0],[22.37,-0.8,0.8],[22.52,-0.6,0.9],[22.70,-0.4,0.6],[22.85,-0.3,0.4]
];

// (h) Noise spectra, 06 April
const H_FREQ = [0,7,8,9,10,11,12,13,14,16,18,20,22,24,26,28,30,33,36,40,45,50,55,60,65,70,75,80,84,88,90,95,100];
const H_PSD  = [0,0,0.004,0.009,0.019,0.028,0.038,0.044,0.047,0.045,0.045,0.047,0.045,0.049,0.051,0.047,0.045,0.045,0.047,0.045,0.044,0.047,0.044,0.044,0.045,0.042,0.044,0.042,0.045,0.042,0.038,0.04,0.042];

// (i) Filtered data-Z (HYB), 06 April
const I_H = [1,1.5,2,2.5,3,3.5,3.9,4,4.5,5,5.5,5.9,6,6.5,7,7.25,7.5,8,8.5,9,9.4,9.7,10,10.4,10.5,11,11.5,12,12.3,12.5,13,13.5,14,14.5,15,15.5,16,16.5,17,17.5,17.9,18,18.5,19,19.5,20,20.5,21,21.5,22,22.5,23,23.5,24];
const I_V = [6.0,5.1,4.0,3.3,0.7,-3.7,-8.0,-7.9,-7.8,-7.7,-9.0,-10.8,-10.5,-10.0,-9.5,-9.0,-7.0,-3.3,-2.7,-2.0,-0.7,-1.1,-1.0,0.2,0.0,-0.35,-1.0,-1.5,-1.8,-1.35,-0.35,0.65,1.3,1.1,1.0,1.65,2.45,3.0,3.3,3.8,4.35,4.0,3.65,3.65,3.8,3.9,3.85,3.85,3.85,3.9,3.85,3.8,3.85,3.9];

// (j) Raw-Z (CPL), 06 April
const J_H = [1,1.5,2,2.5,3,3.5,4,4.5,5,5.5,5.85,6,6.5,7,7.25,7.5,8,8.5,9,9.3,9.7,10,10.2,10.5,11,11.5,12,12.3,12.5,13,13.5,14,14.5,15,15.5,16,16.5,17,17.5,17.9,18,18.5,19,19.5,20,20.5,21,21.5,22,22.5,23,23.5,24];
const J_V = [5.7,4.8,3.75,2.7,0.35,-4.4,-8.2,-8.2,-8.5,-9.9,-11.6,-11.25,-10.2,-9.35,-8.9,-6.8,-3.1,-2.25,-1.7,-0.35,-1.35,0.2,0.35,0.0,-0.5,-1.0,-1.35,-1.7,-1.35,-0.35,0.9,1.5,1.15,1.0,1.7,2.4,3.05,3.4,3.6,4.1,3.75,3.4,3.4,3.6,3.6,3.75,3.75,3.75,3.75,3.75,3.9,4.1,4.1];

// ================= RENDERING =================
const FONT = "'Liberation Sans', Arial, Helvetica, sans-serif";
const TICK_FS = 44, LABEL_FS = 45, TITLE_FS = 46;
const TXT = '#333333';
const C_RAW = '#0b72bd', C_RAW_TREND = '#3c6e95', C_NOISE = '#ee1010', C_NOISE_BASE = '#8e1414';
const C_SPEC = '#2b2a9e', C_FILT = '#141414', C_CPL = '#2b80b8';

Chart.defaults.font.family = FONT;
Chart.defaults.color = TXT;

function pairs(H, V) { const n = Math.min(H.length, V.length); const o = []; for (let i = 0; i < n; i++) o.push({x: H[i], y: V[i]}); return o; }
function bars(S) { return S.map(s => ({x: s[0], y: [s[1], s[2]]})); }
function lineDS(H, V, color, w) { return {type: 'line', data: pairs(H, V), borderColor: color, borderWidth: w, pointRadius: 0, tension: 0, fill: false, order: 2}; }
function barDS(S, color) { return {type: 'bar', data: bars(S), backgroundColor: color, borderWidth: 0, barThickness: 5, grouped: false, order: 1}; }

const boxPlugin = {
  id: 'matlabBox',
  afterDraw(chart) {
    const {ctx, chartArea: a, scales} = chart;
    const TL = 33;
    ctx.save();
    ctx.strokeStyle = '#2e2e2e';
    ctx.lineWidth = 2.5;
    ctx.beginPath();
    for (const t of scales.x.ticks) {
      const px = scales.x.getPixelForValue(t.value);
      if (px <= a.left + 2 || px >= a.right - 2) continue;
      ctx.moveTo(px, a.bottom); ctx.lineTo(px, a.bottom - TL);
      ctx.moveTo(px, a.top); ctx.lineTo(px, a.top + TL);
    }
    for (const t of scales.y.ticks) {
      const py = scales.y.getPixelForValue(t.value);
      if (py <= a.top + 2 || py >= a.bottom - 2) continue;
      ctx.moveTo(a.left, py); ctx.lineTo(a.left + TL, py);
      ctx.moveTo(a.right, py); ctx.lineTo(a.right - TL, py);
    }
    ctx.stroke();
    ctx.strokeStyle = '#8a8a8a'; ctx.lineWidth = 6;
    ctx.beginPath(); ctx.moveTo(a.left, a.top); ctx.lineTo(a.right, a.top); ctx.stroke();
    ctx.strokeStyle = '#333333'; ctx.lineWidth = 3.5;
    ctx.beginPath();
    ctx.moveTo(a.left, a.top); ctx.lineTo(a.left, a.bottom); ctx.lineTo(a.right, a.bottom); ctx.lineTo(a.right, a.top);
    ctx.stroke();
    ctx.restore();
  }
};

// panel geometry (page px). Canvas centre = centre of the sub-plot titles.
const TOP = {left: 105, right: 3645, plotLeft: 259, plotRight: 3561, xTickPad: 21, xAxisH: 146};
const BOT = {left: 88, right: 3640, plotLeft: 240, plotRight: 3555, xTickPad: 18, xAxisH: 140};

function makeChart(P, s) {
  const top = s.plotTop - s.titleGap - 0.6 * TITLE_FS;
  const h = Math.round(s.plotBottom + P.xAxisH - top);
  const yW = P.plotLeft - P.left;
  const rW = P.right - P.plotRight;
  const c = document.createElement('canvas');
  c.width = P.right - P.left; c.height = h;
  c.style.left = P.left + 'px'; c.style.top = top + 'px';
  document.body.appendChild(c);
  const yGrid = s.zeroLine
    ? {display: true, drawTicks: false, drawOnChartArea: true, lineWidth: 6,
       color: ctx => (ctx.tick && ctx.tick.value === 0) ? C_NOISE_BASE : 'rgba(0,0,0,0)'}
    : {display: false, drawTicks: false};
  new Chart(c, {
    type: 'line',
    data: {datasets: s.datasets},
    options: {
      responsive: false, animation: false, devicePixelRatio: 1,
      layout: {padding: 0},
      plugins: {
        legend: {display: false}, tooltip: {enabled: false},
        title: {display: true, text: s.title, color: '#000', font: {family: FONT, size: TITLE_FS, weight: 'bold', lineHeight: 1.2},
                padding: {top: 0, bottom: s.titleGap - 0.6 * TITLE_FS}}
      },
      scales: {
        x: {
          type: 'linear', min: s.xMin, max: s.xMax, offset: false,
          afterBuildTicks: sc => { sc.ticks = s.xTicks.map(v => ({value: v})); },
          afterFit: sc => { sc.height = P.xAxisH; },
          grid: {display: false, drawTicks: false}, border: {display: false},
          ticks: {padding: P.xTickPad, color: TXT, autoSkip: false, maxRotation: 0, font: {family: FONT, size: TICK_FS}},
          title: {display: true, text: s.xTitle, color: TXT, font: {family: FONT, size: LABEL_FS}, padding: {top: 0, bottom: 4}}
        },
        y: {
          type: 'linear', min: s.yMin, max: s.yMax,
          afterBuildTicks: sc => { sc.ticks = s.yTicks.map(v => ({value: v})); },
          afterFit: sc => { sc.width = yW; },
          grid: yGrid, border: {display: false},
          ticks: {padding: 18, color: TXT, font: {family: FONT, size: TICK_FS}},
          title: {display: true, text: s.yTitle, color: TXT, font: {family: FONT, size: LABEL_FS},
                  padding: {top: s.yTitleX - P.left - 0.6 * LABEL_FS, bottom: 0}}
        },
        // right-hand side of the MATLAB box (no labels), keeps the title centred on the canvas
        yRight: {
          type: 'linear', position: 'right', min: s.yMin, max: s.yMax,
          afterFit: sc => { sc.width = rW; },
          grid: {display: false, drawTicks: false}, border: {display: false},
          ticks: {display: false}
        }
      }
    },
    plugins: [boxPlugin]
  });
}

const HRS = {xMin: 1, xMax: 24, xTicks: HOUR_TICKS, xTitle: 'UT Hours'};
const FRQ = {xMin: 0, xMax: 100, xTicks: FREQ_TICKS, xTitle: 'Frequency, mHz'};

// Before lockdown
makeChart(TOP, Object.assign({title: '(a) Raw-Z (HYB)', plotTop: 191, plotBottom: 370, titleGap: 38, yTitle: 'Z-nT', yTitleX: 131,
  yMin: -10, yMax: 6.3, yTicks: Z_TICKS_10,
  datasets: [lineDS(A_TREND_H, A_TREND_V, C_RAW_TREND, 5), barDS(A_SPIKES_1, C_RAW), barDS(A_SPIKES_2, C_RAW)]}, HRS));
makeChart(TOP, Object.assign({title: '(b) Noise in Raw-Z (HYB)', plotTop: 597, plotBottom: 775, titleGap: 40, yTitle: 'Amplitude', yTitleX: 156,
  yMin: -4, yMax: 4, yTicks: NOISE_TICKS, zeroLine: true,
  datasets: [barDS(B_NOISE_1, C_NOISE), barDS(B_NOISE_2, C_NOISE)]}, HRS));
makeChart(TOP, Object.assign({title: '(c) Noise spectra', plotTop: 1000, plotBottom: 1182, titleGap: 36, yTitle: 'nT²/mHz', yTitleX: 139,
  yMin: 0, yMax: 0.5, yTicks: SPEC_TICKS,
  datasets: [lineDS(C_FREQ, C_PSD, C_SPEC, 5)]}, FRQ));
makeChart(TOP, Object.assign({title: '(d) Filtered data-Z (HYB)', plotTop: 1409, plotBottom: 1587, titleGap: 41, yTitle: 'Z-nT', yTitleX: 153,
  yMin: -5, yMax: 3, yTicks: Z_TICKS_4,
  datasets: [lineDS(D_H, D_V, C_FILT, 4.5)]}, HRS));
makeChart(TOP, Object.assign({title: '(e) Raw-Z (CPL)', plotTop: 1814, plotBottom: 1993, titleGap: 39, yTitle: 'Z-nT', yTitleX: 156,
  yMin: -5, yMax: 2.9, yTicks: Z_TICKS_4,
  datasets: [lineDS(E_H, E_V, C_CPL, 4.5)]}, HRS));

// During lockdown
makeChart(BOT, Object.assign({title: '(f) Raw-Z (HYB)', plotTop: 2362, plotBottom: 2536, titleGap: 41, yTitle: 'Z-nT', yTitleX: 117,
  yMin: -12.6, yMax: 7.9, yTicks: Z_TICKS_10,
  datasets: [lineDS(F_TREND_H, F_TREND_V, C_RAW_TREND, 5), barDS(F_SPIKES_1, C_RAW), barDS(F_SPIKES_2, C_RAW)]}, HRS));
makeChart(BOT, Object.assign({title: '(g) Noise in Raw-Z (HYB)', plotTop: 2756, plotBottom: 2929, titleGap: 42, yTitle: 'Amplitude', yTitleX: 137,
  yMin: -4, yMax: 4, yTicks: NOISE_TICKS, zeroLine: true,
  datasets: [barDS(G_NOISE_1, C_NOISE), barDS(G_NOISE_2, C_NOISE)]}, HRS));
makeChart(BOT, Object.assign({title: '(h) Noise spectra', plotTop: 3146, plotBottom: 3327, titleGap: 36, yTitle: 'nT²/mHz', yTitleX: 117,
  yMin: 0, yMax: 0.5, yTicks: SPEC_TICKS,
  datasets: [lineDS(H_FREQ, H_PSD, C_SPEC, 5)]}, FRQ));
makeChart(BOT, Object.assign({title: '(i)  Filtered data-Z (HYB)', plotTop: 3550, plotBottom: 3723, titleGap: 41, yTitle: 'Z-nT', yTitleX: 114,
  yMin: -10.8, yMax: 6.0, yTicks: Z_TICKS_10,
  datasets: [lineDS(I_H, I_V, C_FILT, 4.5)]}, HRS));
makeChart(BOT, Object.assign({title: '(j)  Raw-Z (CPL)', plotTop: 3944, plotBottom: 4119, titleGap: 39, yTitle: 'Z-nT', yTitleX: 114,
  yMin: -11.7, yMax: 5.7, yTicks: Z_TICKS_10,
  datasets: [lineDS(J_H, J_V, C_CPL, 4.5)]}, HRS));
</script>
</body>
</html>
